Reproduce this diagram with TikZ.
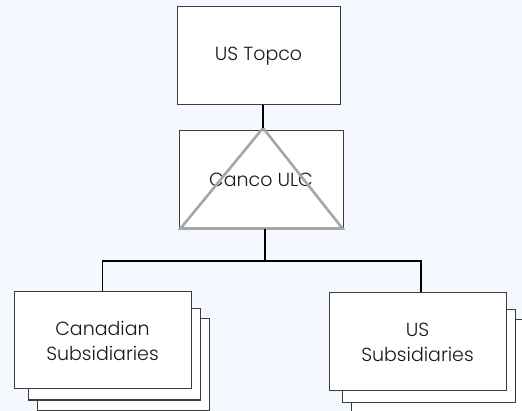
\documentclass[tikz,border=0pt]{standalone}
\usepackage{fontspec}
\setmainfont{Poppins}[UprightFont=* Light]
\usetikzlibrary{calc}
\definecolor{bg}{HTML}{F5F8FE}
\definecolor{edge}{HTML}{3C3C3C}
\definecolor{tri}{HTML}{A6A6A6}
\begin{document}
\begin{tikzpicture}[x=1pt,y=-1pt,
  entity/.style={draw=edge, line width=1pt, fill=white, rectangle, inner sep=0pt,
    align=center, text=black!90, font=\fontsize{19}{25}\selectfont},
  link/.style={draw=black, line width=1.6pt}]
  \useasboundingbox (0,0) rectangle (522,411);
  \fill[bg] (0,0) rectangle (522,411);
  \clip (0,0) rectangle (522,411);

  % stacked sheets behind the subsidiary boxes
  \node[entity, minimum width=172pt, minimum height=91pt] (can3) at (123,364.5) {};
  \node[entity, minimum width=172pt, minimum height=91pt] (can2) at (114,354.5) {};
  \node[entity, minimum width=177pt, minimum height=97pt] (can) at (102.5,340.5) {Canadian\\Subsidiaries};

  \node[entity, minimum width=173pt, minimum height=92pt] (us3) at (437.5,366) {};
  \node[entity, minimum width=173pt, minimum height=92pt] (us2) at (428.5,356) {};
  \node[entity, minimum width=177pt, minimum height=98pt] (us) at (417.5,342) {US\\Subsidiaries};

  % parent and holding company
  \node[entity, minimum width=163pt, minimum height=98pt] (topco) at (258.5,56) {US Topco};
  \node[entity, minimum width=164pt, minimum height=98pt] (canco) at (261,180) {Canco ULC};

  % triangle marking the ULC as a hybrid entity
  \coordinate (apex) at (263,128);
  \draw[tri, line width=2.6pt, line join=miter]
    (apex) -- ($(canco.south west)+(2,-1)$) -- ($(canco.south east)+(-1,-1)$) -- cycle;

  % ownership lines
  \draw[link] ($(topco.south)+(4.5,0)$) -- (apex);
  \coordinate (bus) at (265,261);
  \draw[link] ($(canco.south)+(4,0)$) -- (bus);
  \draw[link] (can.north) |- (bus) -| ($(us.north)+(3.5,0)$);
\end{tikzpicture}
\end{document}
